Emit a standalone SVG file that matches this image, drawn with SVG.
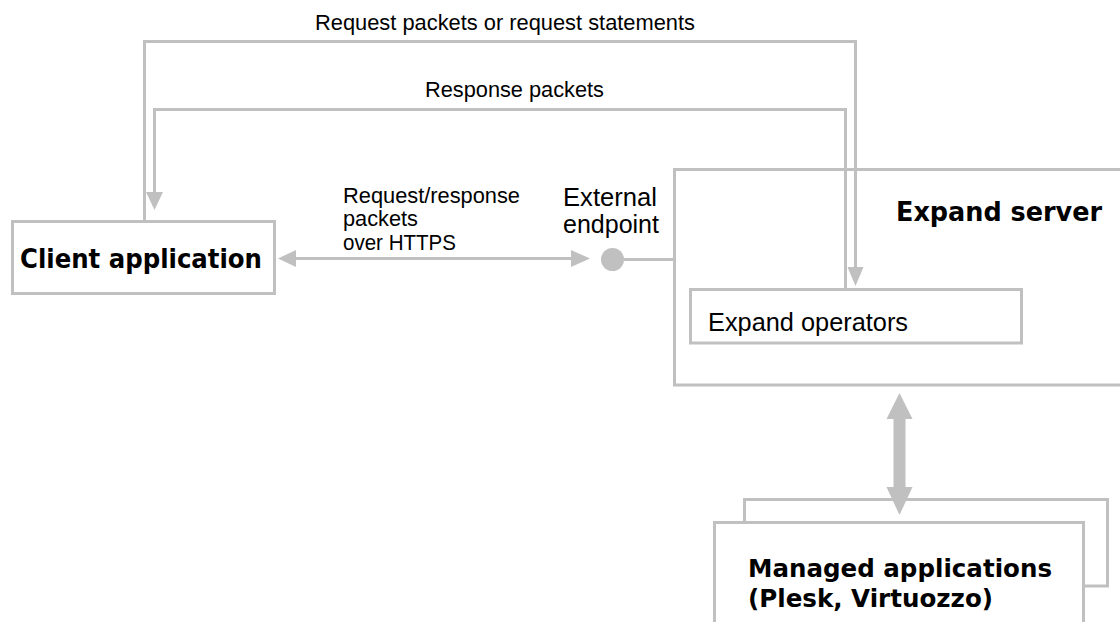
<svg xmlns="http://www.w3.org/2000/svg" width="1120" height="622" viewBox="0 0 1120 622">
<style>
.box{fill:#fff;stroke:#c0c0c0;stroke-width:3}
.ln{fill:none;stroke:#c0c0c0;stroke-width:3}
.ah{fill:#c0c0c0;stroke:none}
.t{font-family:"Liberation Sans",Arial,sans-serif;fill:#000}
.b{font-family:"DejaVu Sans",Verdana,sans-serif;font-weight:bold;fill:#000}
</style>
<rect width="1120" height="622" fill="#fff"/>
<g id="expand-server">
<rect class="box" x="674.5" y="169.5" width="460" height="215.5"/>
<text class="b" x="896" y="221" font-size="26" textLength="206" lengthAdjust="spacingAndGlyphs">Expand server</text>
</g>
<g id="expand-operators">
<rect class="box" x="690.5" y="289.5" width="331" height="53.5"/>
<text class="t" x="708" y="331" font-size="25.5" textLength="200" lengthAdjust="spacingAndGlyphs">Expand operators</text>
</g>
<g id="client-application">
<rect class="box" x="12.5" y="221.5" width="262" height="72"/>
<text class="b" x="20" y="268" font-size="26" textLength="242" lengthAdjust="spacingAndGlyphs">Client application</text>
</g>
<g id="external-endpoint">
<circle cx="612.5" cy="259.5" r="11.5" fill="#c0c0c0"/>
<text class="t" x="563" y="206" font-size="25" textLength="94" lengthAdjust="spacingAndGlyphs">External</text>
<text class="t" x="563" y="233" font-size="25" textLength="96" lengthAdjust="spacingAndGlyphs">endpoint</text>
</g>
<g id="managed-applications">
<rect class="box" x="744.5" y="499.5" width="363" height="86.5"/>
<rect class="box" x="714.5" y="522.5" width="369" height="120"/>
<text class="b" x="748" y="577" font-size="25" textLength="304" lengthAdjust="spacingAndGlyphs">Managed applications</text>
<text class="b" x="748" y="607" font-size="25" textLength="245" lengthAdjust="spacingAndGlyphs">(Plesk, Virtuozzo)</text>
</g>
<g id="connectors">
<polyline class="ln" points="144.5,221 144.5,41.5 855.5,41.5 855.5,268"/>
<polygon class="ah" points="847.5,267 863.5,267 855.5,286"/>
<text class="t" x="315" y="30" font-size="21.8" textLength="380" lengthAdjust="spacingAndGlyphs">Request packets or request statements</text>
<polyline class="ln" points="845.5,288 845.5,109.5 154.5,109.5 154.5,193"/>
<polygon class="ah" points="146,192 163,192 154.5,210"/>
<text class="t" x="425" y="97" font-size="21.8" textLength="179" lengthAdjust="spacingAndGlyphs">Response packets</text>
<line class="ln" x1="293" y1="258.5" x2="573" y2="258.5"/>
<polygon class="ah" points="278,258.5 296,250 296,267"/>
<polygon class="ah" points="590,258.5 571,250 571,267"/>
<line class="ln" x1="624" y1="259.5" x2="674" y2="259.5"/>
<text class="t" x="343" y="203" font-size="21.5" textLength="177" lengthAdjust="spacingAndGlyphs">Request/response</text>
<text class="t" x="343" y="226" font-size="21.5" textLength="75" lengthAdjust="spacingAndGlyphs">packets</text>
<text class="t" x="343" y="250" font-size="21.5" textLength="113" lengthAdjust="spacingAndGlyphs">over HTTPS</text>
<polygon class="ah" points="899.5,393 912.5,419 905.5,419 905.5,487 912.5,487 899.5,515 886.5,487 893.5,487 893.5,419 886.5,419"/>
</g>
</svg>
